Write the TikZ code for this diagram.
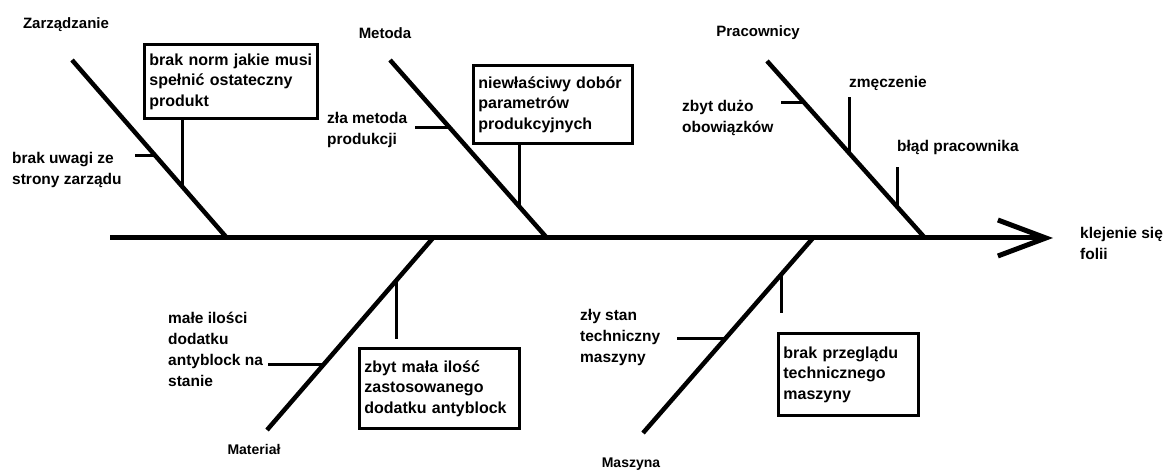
\documentclass[tikz,border=0pt]{standalone}
\usepackage{fontspec}
\setmainfont{Liberation Sans}
\usetikzlibrary{positioning, arrows.meta, calc}

\begin{document}
\begin{tikzpicture}[
  x=1pt, y=1pt,
  spine/.style={line width=5pt, -{Straight Barb[length=48pt, width=36pt]}},
  bone/.style={line width=4.5pt},
  tick/.style={line width=3pt},
  cause/.style={
    draw, line width=2.8pt, anchor=north west,
    inner xsep=5pt, inner ysep=3pt, align=left,
    font=\bfseries\fontsize{16}{20.5}\selectfont
  },
  lbl/.style={inner sep=2pt, align=left, font=\bfseries\fontsize{15.5}{21}\selectfont},
  cat/.style={inner sep=1pt, font=\bfseries\fontsize{15}{18}\selectfont},
  catlow/.style={inner sep=1pt, font=\bfseries\fontsize{14}{17}\selectfont},
]
\useasboundingbox (0,0) rectangle (1170,470);

% ===== Spine =====
\coordinate (tail) at (110,232);
\coordinate (head) at (1053,232);
\draw[spine] (tail) -- (head);
\node[lbl, anchor=west] (effect) at (1078,227) {klejenie się\\folii};

% ===== Zarzadzanie =====
\coordinate (zt) at (72,410);
\coordinate (zb) at (227,232);
\draw[bone] (zt) -- (zb);
\node[cat] (zar) at (66,445) {Zarządzanie};

\node[cause, text width=163pt, minimum height=74pt] (norm) at (143,427)
  {brak norm jakie musi\\spełnić ostateczny\\produkt};
\coordinate (z1) at ($(zt)!0.716!(zb)$);
\draw[tick] (z1) -- (z1 |- norm.south);

\coordinate (z2) at ($(zt)!0.534!(zb)$);
\draw[tick] (z2) -- ++(-20,0) coordinate (z2e);
\node[lbl, anchor=north west] (uwagi) at (10,320) {brak uwagi ze\\strony zarządu};

% ===== Metoda =====
\coordinate (mt) at (390,410);
\coordinate (mb) at (547,232);
\draw[bone] (mt) -- (mb);
\node[cat] (met) at (385,437) {Metoda};

\node[cause, text width=149pt, minimum height=78pt] (dobor) at (472,406)
  {niewłaściwy dobór\\parametrów\\produkcyjnych};
\coordinate (m1) at ($(mt)!0.822!(mb)$);
\draw[tick] (m1) -- (m1 |- dobor.south);

\coordinate (m2) at ($(mt)!0.382!(mb)$);
\draw[tick] (m2) -- ++(-35,0) coordinate (m2e);
\node[lbl, anchor=north west] (zla) at (325,360) {zła metoda\\produkcji};

% ===== Pracownicy =====
\coordinate (pt) at (767,409);
\coordinate (pb) at (925,232);
\draw[bone] (pt) -- (pb);
\node[cat] (prac) at (758,437) {Pracownicy};

\coordinate (p1) at ($(pt)!0.232!(pb)$);
\draw[tick] (p1) -- ++(-23,0) coordinate (p1e);
\node[lbl, anchor=north west] (duzo) at (680,372) {zbyt dużo\\obowiązków};

\coordinate (p2) at ($(pt)!0.525!(pb)$);
\draw[tick] (p2) -- ++(0,57) coordinate (p2e);
\node[lbl, anchor=west] (zmecz) at (847,387) {zmęczenie};

\coordinate (p3) at ($(pt)!0.823!(pb)$);
\draw[tick] (p3) -- ++(0,40) coordinate (p3e);
\node[lbl, anchor=west] (blad) at (895,322) {błąd pracownika};

% ===== Material =====
\coordinate (at) at (433,232);
\coordinate (ab) at (267,40);
\draw[bone] (at) -- (ab);
\node[catlow] (mat) at (254,20) {Materiał};

\node[cause, text width=150pt, minimum height=80pt] (ilosc) at (358,123)
  {zbyt mała ilość\\zastosowanego\\dodatku antyblock};
\coordinate (a1) at ($(at)!0.217!(ab)$);
\draw[tick] (a1) -- ++(0,-59) coordinate (a1e);

\coordinate (a2) at ($(at)!0.661!(ab)$);
\draw[tick] (a2) -- ++(-55,0) coordinate (a2e);
\node[lbl, anchor=north west] (male) at (166,160) {małe ilości\\dodatku\\antyblock na\\stanie};

% ===== Maszyna =====
\coordinate (st) at (813,232);
\coordinate (sb) at (643,37);
\draw[bone] (st) -- (sb);
\node[catlow] (masz) at (631,6) {Maszyna};

\node[cause, text width=130pt, minimum height=82pt] (przeglad) at (777,138)
  {brak przeglądu\\technicznego\\maszyny};
\coordinate (s1) at ($(st)!0.188!(sb)$);
\draw[tick] (s1) -- ++(0,-38) coordinate (s1e);

\coordinate (s2) at ($(st)!0.513!(sb)$);
\draw[tick] (s2) -- ++(-49,0) coordinate (s2e);
\node[lbl, anchor=north west] (stan) at (578,163) {zły stan\\techniczny\\maszyny};

\end{tikzpicture}
\end{document}
